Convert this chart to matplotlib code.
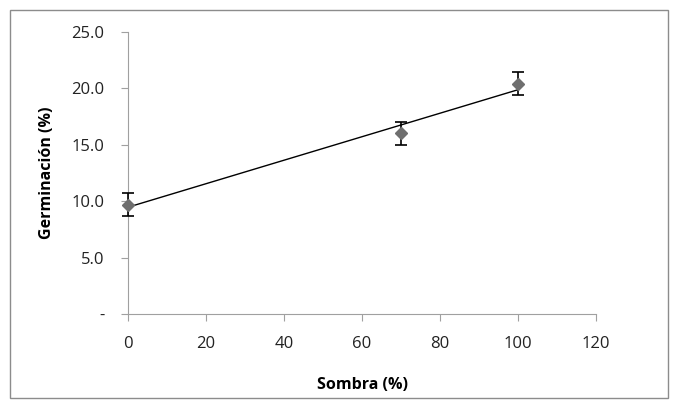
import numpy as np
import matplotlib.pyplot as plt
from matplotlib.patches import Rectangle

plt.rcParams['font.family'] = ['Open Sans', 'DejaVu Sans']

sombra = [0, 70, 100]
germinacion = [9.7, 16.0, 20.4]
error = [1.0, 1.0, 1.0]
x_ticks = [0, 20, 40, 60, 80, 100, 120]
y_ticks = [0, 5, 10, 15, 20, 25]

fig = plt.figure(figsize=(6.78, 4.08), dpi=100)
ax = fig.add_axes([0.189, 0.230, 0.690, 0.692])

# linear trend line
slope, intercept = np.polyfit(sombra, germinacion, 1)
xl = np.array([min(sombra), max(sombra)])
ax.plot(xl, slope * xl + intercept, color='black', lw=1.0, zorder=2, clip_on=False)

bars = ax.errorbar(sombra, germinacion, yerr=error, fmt='D', color='#6f6f6f', ms=6,
                   ecolor='black', elinewidth=1.2, capsize=4, capthick=1.2, zorder=3)
for art in bars.lines[0:1] + tuple(bars.lines[1]) + tuple(bars.lines[2]):
    art.set_clip_on(False)

ax.set_xlim(0, 120)
ax.set_ylim(0, 25)
ax.set_xticks(x_ticks)
ax.set_yticks(y_ticks)
ax.set_yticklabels(['-' if v == 0 else '%.1f' % v for v in y_ticks])
ax.tick_params(axis='both', colors='#a0a0a0', labelcolor='#222222', labelsize=12,
               length=5, direction='out')
ax.tick_params(axis='x', pad=11)
ax.tick_params(axis='y', pad=12)
for s in ['top', 'right']:
    ax.spines[s].set_visible(False)
for s in ['left', 'bottom']:
    ax.spines[s].set_color('#a0a0a0')

ax.set_xlabel('Sombra (%)', fontsize=11.5, fontweight='bold', labelpad=18)
ax.set_ylabel('Germinación (%)', fontsize=11.5, fontweight='bold', labelpad=12)

fig.patches.append(Rectangle((10 / 678, 10 / 408), 658 / 678, 388 / 408,
                             transform=fig.transFigure, fill=False,
                             edgecolor='#8c8c8c', lw=1.0))

fig.savefig('out.png', dpi=100)
